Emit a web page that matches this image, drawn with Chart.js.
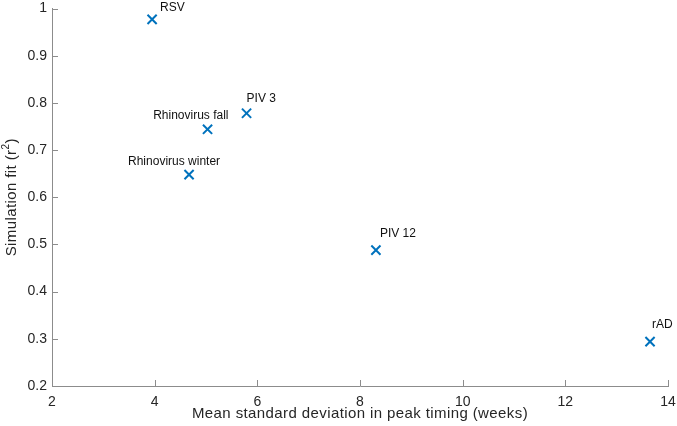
<!DOCTYPE html>
<html>
<head>
<meta charset="utf-8">
<script src="https://cdn.jsdelivr.net/npm/chart.js@4.4.0/dist/chart.umd.min.js"></script>
<style>
  html, body { margin: 0; padding: 0; background: #fff; }
  #wrap { width: 677px; height: 426px; }
</style>
</head>
<body>
<div id="wrap"><canvas id="scatterChart" width="677" height="426"></canvas></div>
<script>
var virusNames = ['RSV', 'PIV 3', 'Rhinovirus fall', 'Rhinovirus winter', 'PIV 12', 'rAD'];
var peakTimingSD = [3.95, 5.79, 5.03, 4.67, 8.31, 13.65];
var simulationFit = [0.977, 0.778, 0.744, 0.648, 0.488, 0.294];

var xTitle = 'Mean standard deviation in peak timing (weeks)';
var yTitle = 'Simulation fit (r';

var fontFamily = '"Liberation Sans", Arial, Helvetica, sans-serif';
var axisGray = '#8c8c8c';
var textDark = '#262626';
var markerBlue = '#0072BD';

// where each label sits relative to its marker: [dx, dy, align]
var labelPlace = {
  'RSV': [8, -12, 'left'],
  'PIV 3': [0, -15, 'left'],
  'Rhinovirus fall': [21, -14, 'right'],
  'Rhinovirus winter': [31, -13, 'right'],
  'PIV 12': [4, -16, 'left'],
  'rAD': [2, -17, 'left']
};

var pointLabels = {
  id: 'pointLabels',
  afterDatasetsDraw: function(chart) {
    var ctx = chart.ctx;
    var meta = chart.getDatasetMeta(0);
    ctx.save();
    ctx.font = '12px ' + fontFamily;
    ctx.fillStyle = '#111';
    ctx.textBaseline = 'middle';
    meta.data.forEach(function(pt, i) {
      var p = labelPlace[virusNames[i]];
      ctx.textAlign = p[2];
      ctx.fillText(virusNames[i], pt.x + p[0], pt.y + p[1]);
    });
    ctx.restore();
  }
};

// MATLAB-style inward ticks and axis titles (with superscript)
var axesExtras = {
  id: 'axesExtras',
  afterDraw: function(chart) {
    var ctx = chart.ctx;
    var xs = chart.scales.x, ys = chart.scales.y;
    var area = chart.chartArea;
    ctx.save();
    ctx.strokeStyle = axisGray;
    ctx.lineWidth = 1;
    ctx.beginPath();
    xs.ticks.forEach(function(t) {
      var px = Math.round(xs.getPixelForValue(t.value)) + 0.5;
      ctx.moveTo(px, area.bottom);
      ctx.lineTo(px, area.bottom - 6);
    });
    ys.ticks.forEach(function(t) {
      var py = Math.round(ys.getPixelForValue(t.value)) + 0.5;
      ctx.moveTo(area.left, py);
      ctx.lineTo(area.left + 6, py);
    });
    ctx.stroke();

    ctx.fillStyle = textDark;
    ctx.letterSpacing = '0.4px';
    ctx.font = '15px ' + fontFamily;
    ctx.textBaseline = 'middle';
    ctx.textAlign = 'center';
    ctx.fillText(xTitle, (area.left + area.right) / 2, 414);

    // y title, rotated, with superscript 2
    var mainW = ctx.measureText(yTitle).width;
    ctx.font = '10px ' + fontFamily;
    var supW = ctx.measureText('2').width;
    ctx.font = '15px ' + fontFamily;
    var closeW = ctx.measureText(')').width;
    var total = mainW + supW + closeW;
    ctx.translate(12, (area.top + area.bottom) / 2);
    ctx.rotate(-Math.PI / 2);
    ctx.textAlign = 'left';
    var x0 = -total / 2;
    ctx.fillText(yTitle, x0, 0);
    ctx.font = '10px ' + fontFamily;
    ctx.fillText('2', x0 + mainW, -6);
    ctx.font = '15px ' + fontFamily;
    ctx.fillText(')', x0 + mainW + supW, 0);
    ctx.restore();
  }
};

var points = peakTimingSD.map(function(x, i) { return { x: x, y: simulationFit[i] }; });

var scatterCtx = document.getElementById('scatterChart').getContext('2d');
var scatterChart = new Chart(scatterCtx, {
  type: 'scatter',
  data: {
    datasets: [{
      data: points,
      pointStyle: 'crossRot',
      radius: 6.5,
      hoverRadius: 6.5,
      borderWidth: 2,
      borderColor: markerBlue,
      backgroundColor: markerBlue
    }]
  },
  plugins: [pointLabels, axesExtras],
  options: {
    responsive: false,
    animation: false,
    layout: { padding: { top: 8, right: 9, left: 0, bottom: 0 } },
    plugins: {
      legend: { display: false },
      tooltip: { enabled: false }
    },
    scales: {
      x: {
        type: 'linear',
        min: 2,
        max: 14,
        grid: { display: true, drawOnChartArea: false, drawTicks: false },
        border: { color: axisGray, width: 1 },
        ticks: {
          stepSize: 2,
          color: textDark,
          padding: 8,
          font: { family: fontFamily, size: 14 }
        },
        afterFit: function(scale) {
          scale.height = 40;
          scale.paddingLeft = 0;
          scale.paddingRight = 0;
        }
      },
      y: {
        type: 'linear',
        min: 0.2,
        max: 1,
        grid: { display: true, drawOnChartArea: false, drawTicks: false },
        border: { color: axisGray, width: 1 },
        ticks: {
          stepSize: 0.1,
          color: textDark,
          padding: 5,
          font: { family: fontFamily, size: 14 },
          callback: function(v) { return Math.round(v * 10) / 10; }
        },
        afterFit: function(scale) {
          scale.width = 52;
          scale.paddingTop = 0;
          scale.paddingBottom = 0;
        }
      }
    }
  }
});
</script>
</body>
</html>
